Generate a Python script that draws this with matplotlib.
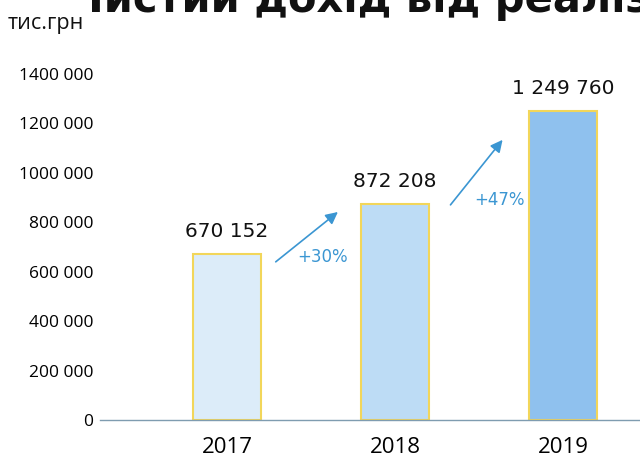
import matplotlib.pyplot as plt

years = ['2017', '2018', '2019']
values = [670152, 872208, 1249760]
growth = ['+30%', '+47%']
ticks = [0, 200000, 400000, 600000, 800000, 1000000, 1200000, 1400000]

colors = ['#dcecf9', '#bddcf5', '#8fc1ee']
edge = '#f2d65a'
arrow_c = '#3b96d2'

def fmt(v):
    # "1400 000" style, as on the original
    if v == 0:
        return '0'
    return '%d 000' % (v // 1000)

fig = plt.figure(figsize=(6.4, 4.62), dpi=100)
ax = fig.add_axes([100 / 640, 42 / 462, 540 / 640, 360 / 462])

x = list(range(len(years)))
ax.bar(x, values, width=0.405, color=colors, edgecolor=edge, linewidth=1.5, zorder=2)

ax.set_xlim(-0.756, 2.458)
ax.set_ylim(0, 1456600)
ax.set_yticks(ticks)
ax.set_yticklabels([fmt(t) for t in ticks], fontfamily='Open Sans', fontsize=12.5)
ax.set_xticks(x)
ax.set_xticklabels(years, fontfamily='Open Sans', fontsize=16)
ax.tick_params(axis='y', length=0, pad=5)
ax.tick_params(axis='x', length=0, pad=12)

for s in ['top', 'right', 'left']:
    ax.spines[s].set_visible(False)
ax.spines['bottom'].set_color('#7f9cb0')
ax.spines['bottom'].set_linewidth(1.0)

# value labels above bars
for i, v in enumerate(values):
    ax.text(i, v + 55000, '{:,}'.format(v).replace(',', ' '),
            ha='center', va='bottom', fontsize=14.5, fontfamily='DejaVu Sans', color='#111111')

# growth arrows between bars
tails = [(0.29, 0.955), (1.33, 0.998)]
heads = [(0.66, 0.965), (1.64, 0.907)]
for i, g in enumerate(growth):
    t = (tails[i][0], values[i] * tails[i][1])
    h = (heads[i][0], values[i + 1] * heads[i][1])
    ax.annotate('', xy=h, xytext=t,
                arrowprops=dict(arrowstyle='-|>', color=arrow_c, lw=1.2,
                                mutation_scale=18, shrinkA=0, shrinkB=0))
    ax.text(i + 0.57 + 0.05 * i, values[i] * (0.985 + 0.035 * i), g, ha='center', va='center',
            fontsize=12, fontfamily='DejaVu Sans', color=arrow_c)

fig.text(8 / 640, 1 - 24 / 462, 'тис.грн', fontfamily='Open Sans', fontsize=15.5,
         ha='left', va='center', color='#111111')
fig.text(0.63, 1 - 12 / 462, 'Чистий дохід від реалізації', fontfamily='DejaVu Sans',
         fontweight='bold', fontsize=30, ha='center', va='baseline', color='#111111')

fig.savefig('out.png', dpi=100)
